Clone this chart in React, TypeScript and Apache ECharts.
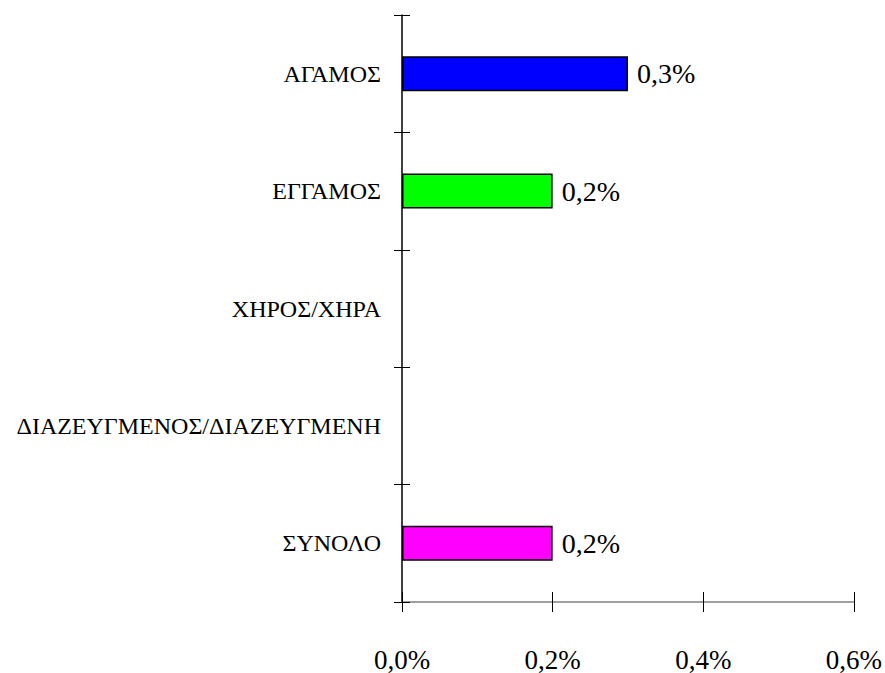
import React, { useEffect, useRef } from "react";
import * as echarts from "echarts";

const categories = ["ΑΓΑΜΟΣ", "ΕΓΓΑΜΟΣ", "ΧΗΡΟΣ/ΧΗΡΑ", "ΔΙΑΖΕΥΓΜΕΝΟΣ/ΔΙΑΖΕΥΓΜΕΝΗ", "ΣΥΝΟΛΟ"];
const values: (number | null)[] = [0.3, 0.2, null, null, 0.2];
const barColors = ["#0000FF", "#00FF00", "#FFFFFF", "#FFFFFF", "#FF00FF"];
const xTicks = { min: 0, max: 0.6, interval: 0.2 };

const FONT = "Times New Roman";
const fmt = (v: number) => v.toFixed(1).replace(".", ",") + "%";

export default function App() {
  const ref = useRef<HTMLDivElement>(null);
  useEffect(() => {
    if (!ref.current) return;
    const chart = echarts.init(ref.current, null, { renderer: "svg" });
    chart.setOption({
      animation: false,
      backgroundColor: "#ffffff",
      textStyle: { fontFamily: FONT },
      grid: { left: 402, right: 30, top: 15, bottom: 64.5, containLabel: false },
      xAxis: [
        {
          type: "value",
          min: xTicks.min,
          max: xTicks.max,
          interval: xTicks.interval,
          axisLine: { show: true, lineStyle: { color: "#808080", width: 1.5 } },
          axisTick: { show: true, length: 10, lineStyle: { color: "#000", width: 1 } },
          splitLine: { show: false },
          axisLabel: {
            formatter: (v: number) => fmt(v),
            fontFamily: FONT,
            fontSize: 27,
            color: "#000",
            margin: 44,
          },
        },
        {
          type: "value",
          position: "bottom",
          min: xTicks.min,
          max: xTicks.max,
          interval: xTicks.interval,
          axisLine: { show: false },
          axisTick: { show: true, inside: true, length: 10, lineStyle: { color: "#000", width: 1 } },
          splitLine: { show: false },
          axisLabel: { show: false },
        },
      ],
      yAxis: [
        {
          type: "category",
          data: categories,
          inverse: true,
          axisLine: { show: true, lineStyle: { color: "#000", width: 1.5 } },
          axisTick: { show: true, length: 8, lineStyle: { color: "#000", width: 1 } },
          axisLabel: {
            fontFamily: FONT,
            fontSize: 24,
            color: "#000",
            margin: 21,
          },
        },
        {
          type: "category",
          data: categories,
          inverse: true,
          position: "left",
          axisLine: { show: false },
          axisTick: { show: true, inside: true, length: 8, lineStyle: { color: "#000", width: 1 } },
          axisLabel: { show: false },
        },
      ],
      series: [
        {
          type: "bar",
          xAxisIndex: 0,
          yAxisIndex: 0,
          barWidth: 35,
          data: values.map((v, i) => ({
            value: v,
            itemStyle: { color: barColors[i], borderColor: "#000", borderWidth: 1.5 },
          })),
          label: {
            show: true,
            position: "right",
            distance: 9,
            fontFamily: FONT,
            fontSize: 28,
            color: "#000",
            formatter: (p: any) => (p.value == null ? "" : fmt(p.value)),
          },
        },
      ],
    });
    return () => chart.dispose();
  }, []);
  return <div ref={ref} style={{ width: 885, height: 673, position: "absolute", left: 0, top: 0 }} />;
}
